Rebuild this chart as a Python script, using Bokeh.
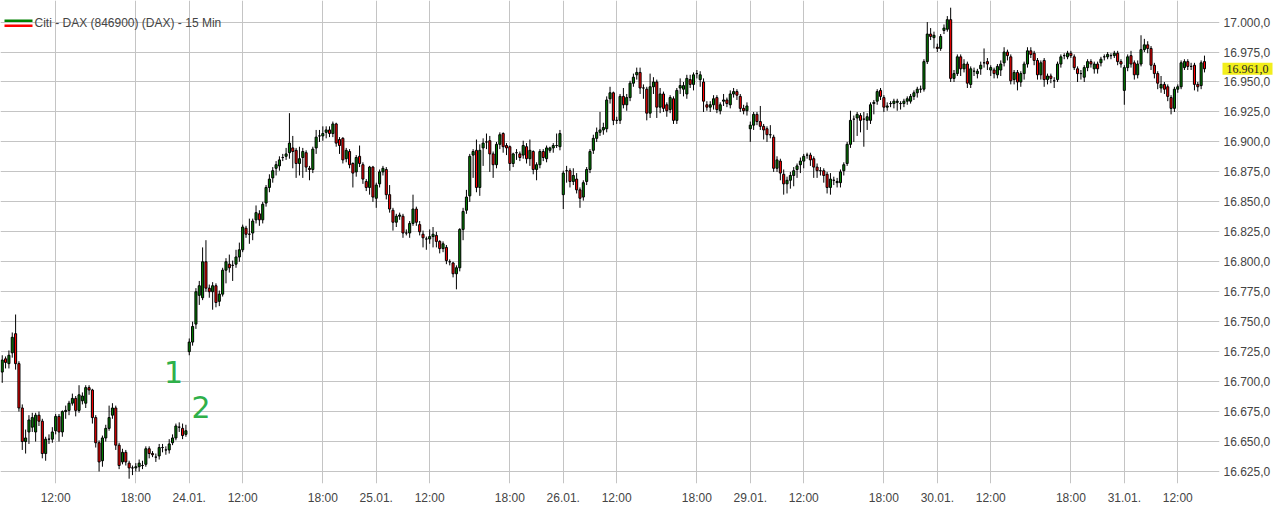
from bokeh.plotting import figure
from bokeh.models import FixedTicker, Label, BoxAnnotation, Range1d, ColumnDataSource
from bokeh.embed import file_html
from bokeh.resources import INLINE

# ---- 15-min OHLC, 23.01. 08:00 ... 31.01. 14:00 ----
opens = [
    # 23.01.
    16708,16719,16715,16724,16740,16715,16678,16650,16658,16662,
    16658,16672,16667,16640,16652,16652,16659,16671,16658,16675,
    16676,16682,16686,16676,16684,16682,16695,16693,16670,16649,
    16634,16653,16661,16672,16678,16647,16633,16641,16632,16628,
    16628,16629,16630,16631,16644,16640,16637,16638,16645,16643,
    16643,16649,16653,16662,16661,16656,
    # 24.01.
    16725,16733,16748,16772,16770,16800,16778,16775,16780,16767,
    16773,16793,16798,16797,16798,16804,16810,16828,16823,16824,
    16835,16840,16835,16849,16862,16870,16878,16880,16887,16888,
    16891,16895,16893,16882,16887,16891,16878,16877,16895,16905,
    16905,16908,16910,16907,16915,16902,16903,16886,16892,16882,
    16875,16888,16881,16867,16862,16879,
    # 25.01.
    16853,16865,16875,16877,16856,16843,16833,16838,16838,16824,
    16824,16832,16844,16831,16823,16819,16819,16821,16822,16817,
    16811,16812,16800,16799,16790,16795,16827,16843,16855,16889,
    16893,16862,16895,16900,16901,16890,16881,16898,16907,16897,
    16896,16882,16891,16890,16889,16896,16886,16892,16877,16881,
    16892,16886,16893,16895,16897,16896,
    # 26.01.
    16856,16876,16876,16867,16869,16860,16854,16867,16877,16893,
    16903,16908,16910,16911,16936,16941,16918,16918,16938,16931,
    16937,16949,16956,16958,16945,16944,16924,16946,16950,16929,
    16940,16931,16927,16936,16918,16945,16944,16940,16952,16948,
    16957,16952,16950,16931,16929,16931,16937,16926,16934,16935,
    16931,16940,16942,16938,16928,16926,
    # 29.01.
    16911,16914,16923,16917,16913,16911,16906,16904,16878,16884,
    16873,16865,16868,16872,16877,16881,16884,16889,16889,16886,
    16879,16876,16876,16873,16862,16868,16866,16866,16876,16882,
    16898,16919,16920,16922,16919,16918,16918,16932,16934,16943,
    16937,16929,16932,16932,16933,16932,16932,16934,16934,16938,
    16941,16944,16944,16967,16990,16987,
    # 30.01.
    16979,16978,16993,16994,17002,16953,16957,16971,16961,16965,
    16948,16959,16957,16961,16966,16967,16960,16960,16956,16960,
    16966,16975,16971,16952,16958,16950,16957,16965,16976,16974,
    16968,16956,16968,16952,16955,16951,16952,16965,16972,16971,
    16974,16971,16961,16957,16954,16962,16967,16961,16965,16966,
    16971,16971,16972,16972,16974,16967,
    # 31.01.
    16943,16962,16972,16966,16956,16965,16977,16981,16978,16964,
    16957,16945,16948,16946,16937,16928,16944,16946,16962,16967,
    16963,16964,16948,16947,16967,
]

closes = [
    16718,16716,16722,16737,16715,16678,16650,16653,16668,16670,
    16672,16667,16640,16652,16652,16658,16671,16658,16675,16676,
    16682,16686,16676,16689,16688,16695,16693,16670,16649,16633,
    16653,16661,16670,16678,16647,16630,16641,16633,16628,16628,
    16629,16632,16630,16644,16640,16639,16637,16645,16645,16643,
    16648,16653,16663,16662,16655,16659,
    16733,16746,16775,16780,16800,16778,16775,16780,16766,16773,
    16793,16800,16795,16797,16804,16810,16829,16823,16823,16834,
    16841,16835,16848,16862,16869,16876,16881,16885,16887,16890,
    16899,16892,16882,16886,16892,16879,16877,16894,16904,16905,
    16907,16910,16907,16915,16899,16897,16885,16893,16881,16874,
    16887,16882,16869,16862,16879,16854,
    16864,16875,16878,16856,16844,16833,16838,16839,16824,16824,
    16832,16844,16833,16825,16820,16819,16821,16823,16817,16811,
    16815,16801,16800,16790,16795,16827,16842,16854,16888,16892,
    16862,16893,16899,16900,16890,16881,16898,16906,16896,16895,
    16882,16890,16891,16887,16897,16886,16893,16877,16881,16892,
    16887,16895,16895,16897,16897,16907,
    16874,16876,16867,16872,16860,16853,16866,16877,16892,16903,
    16908,16910,16912,16935,16941,16918,16918,16938,16931,16937,
    16949,16954,16958,16945,16945,16924,16946,16950,16929,16940,
    16928,16926,16937,16918,16943,16947,16947,16953,16948,16956,
    16957,16956,16934,16929,16931,16936,16927,16931,16935,16932,
    16940,16942,16939,16928,16926,16930,
    16914,16923,16917,16913,16910,16906,16906,16878,16885,16874,
    16865,16868,16872,16876,16880,16884,16888,16889,16885,16879,
    16876,16876,16872,16862,16869,16868,16867,16875,16881,16898,
    16918,16919,16923,16918,16919,16921,16931,16933,16942,16938,
    16929,16930,16932,16934,16934,16932,16934,16936,16938,16941,
    16944,16944,16967,16990,16988,16989,
    16978,16988,16995,17002,16953,16957,16971,16961,16965,16949,
    16961,16959,16959,16964,16966,16965,16962,16957,16963,16965,
    16975,16972,16951,16958,16950,16957,16965,16976,16973,16968,
    16956,16966,16952,16955,16953,16951,16965,16971,16972,16974,
    16972,16962,16957,16957,16962,16967,16965,16965,16961,16969,
    16971,16973,16972,16974,16967,16965,
    16962,16971,16965,16956,16965,16977,16981,16978,16964,16957,
    16949,16948,16944,16938,16928,16944,16946,16966,16967,16963,
    16963,16948,16946,16966,16961,
]

highs = [
    16722,16721,16726,16741,16756,16717,16681,16660,16672,16674,
    16674,16675,16669,16654,16656,16662,16673,16673,16676,16680,
    16684,16690,16688,16697,16691,16697,16697,16694,16672,16651,
    16655,16664,16680,16682,16680,16649,16644,16643,16634,16630,
    16632,16635,16634,16646,16646,16642,16640,16648,16648,16646,
    16652,16656,16665,16666,16665,16664,
    16736,16750,16778,16784,16812,16818,16781,16783,16782,16776,
    16795,16803,16806,16801,16810,16816,16831,16830,16836,16836,
    16847,16843,16850,16864,16873,16879,16884,16888,16890,16895,
    16924,16905,16895,16896,16895,16893,16880,16896,16910,16910,
    16913,16913,16913,16917,16916,16904,16904,16895,16894,16883,
    16889,16897,16883,16869,16880,16880,
    16866,16877,16880,16879,16864,16845,16840,16841,16840,16827,
    16834,16856,16846,16834,16826,16821,16827,16829,16825,16818,
    16817,16814,16802,16800,16797,16828,16845,16860,16890,16894,
    16902,16898,16903,16907,16905,16892,16900,16908,16908,16899,
    16897,16891,16894,16892,16901,16899,16902,16893,16883,16894,
    16894,16897,16896,16899,16907,16910,
    16876,16880,16878,16878,16874,16862,16868,16879,16894,16906,
    16912,16925,16916,16938,16946,16942,16921,16940,16945,16940,
    16951,16957,16962,16962,16948,16946,16957,16954,16952,16945,
    16942,16933,16939,16938,16945,16953,16950,16956,16956,16958,
    16960,16959,16953,16934,16934,16939,16939,16933,16940,16937,
    16943,16945,16944,16940,16931,16933,
    16917,16925,16925,16930,16915,16913,16914,16906,16888,16886,
    16877,16871,16875,16879,16882,16887,16890,16891,16891,16888,
    16882,16879,16878,16875,16874,16871,16870,16877,16883,16900,
    16926,16922,16925,16924,16925,16924,16933,16935,16944,16945,
    16939,16933,16934,16936,16936,16934,16936,16938,16940,16943,
    16946,16947,16969,17000,16995,16992,
    16982,16990,16998,17005,17012,16960,16973,16973,16969,16967,
    16963,16962,16961,16967,16978,16970,16964,16962,16965,16968,
    16979,16977,16973,16960,16960,16959,16967,16979,16979,16976,
    16970,16968,16970,16957,16957,16954,16967,16973,16974,16976,
    16976,16973,16963,16960,16964,16969,16969,16967,16967,16971,
    16973,16975,16974,16976,16976,16969,
    16964,16973,16976,16968,16968,16989,16986,16984,16980,16966,
    16959,16955,16950,16948,16939,16946,16948,16968,16969,16969,
    16966,16966,16950,16968,16972,
]

lows = [
    16699,16711,16711,16720,16710,16675,16643,16640,16648,16658,
    16650,16663,16636,16634,16648,16649,16656,16650,16654,16669,
    16672,16680,16671,16674,16681,16678,16689,16665,16645,16625,
    16629,16650,16659,16669,16643,16627,16631,16630,16619,16622,
    16625,16625,16627,16629,16636,16637,16633,16635,16641,16639,
    16640,16647,16651,16658,16652,16654,
    16722,16730,16744,16764,16768,16775,16770,16760,16762,16763,
    16771,16782,16791,16784,16795,16800,16808,16820,16815,16818,
    16832,16830,16832,16846,16858,16866,16872,16876,16884,16885,
    16886,16878,16870,16872,16870,16875,16868,16874,16890,16900,
    16901,16903,16904,16904,16896,16890,16882,16883,16878,16862,
    16871,16879,16865,16859,16856,16850,
    16845,16862,16872,16852,16841,16826,16829,16835,16820,16822,
    16820,16830,16830,16822,16812,16810,16815,16812,16812,16807,
    16808,16798,16797,16787,16777,16792,16818,16840,16850,16870,
    16858,16855,16880,16894,16875,16870,16878,16894,16891,16889,
    16876,16879,16885,16884,16886,16882,16880,16873,16868,16878,
    16884,16883,16891,16891,16895,16893,
    16844,16866,16862,16864,16857,16845,16851,16864,16874,16890,
    16900,16905,16906,16908,16932,16914,16915,16915,16928,16926,
    16934,16946,16952,16940,16936,16918,16920,16940,16920,16924,
    16925,16921,16924,16915,16915,16940,16938,16936,16945,16943,
    16953,16946,16925,16926,16925,16927,16924,16923,16930,16929,
    16928,16937,16935,16925,16923,16922,
    16900,16910,16914,16910,16902,16900,16903,16875,16875,16868,
    16856,16857,16861,16863,16870,16874,16878,16886,16880,16870,
    16870,16872,16866,16857,16856,16864,16862,16862,16872,16880,
    16895,16900,16905,16908,16896,16910,16915,16923,16931,16935,
    16925,16926,16929,16928,16926,16927,16929,16931,16932,16935,
    16937,16941,16942,16965,16985,16978,
    16975,16976,16990,16992,16950,16950,16955,16955,16958,16945,
    16945,16955,16953,16956,16962,16960,16955,16953,16953,16955,
    16963,16968,16948,16948,16943,16946,16952,16962,16970,16964,
    16952,16952,16946,16948,16949,16945,16950,16962,16969,16969,
    16970,16960,16950,16952,16950,16959,16962,16957,16957,16963,
    16968,16969,16969,16970,16964,16962,
    16931,16959,16962,16952,16953,16963,16975,16974,16960,16953,
    16944,16941,16940,16934,16923,16925,16941,16944,16960,16960,
    16960,16943,16942,16944,16958,
]

x_tick_pos = [16, 40, 56, 72, 96, 112, 128, 152, 168, 184, 208, 224,
              240, 264, 280, 296, 320, 336, 352]
x_tick_labels = ["12:00", "18:00", "24.01.", "12:00", "18:00", "25.01.",
                 "12:00", "18:00", "26.01.", "12:00", "18:00", "29.01.",
                 "12:00", "18:00", "30.01.", "12:00", "18:00", "31.01.", "12:00"]
y_tick_pos = [16625, 16650, 16675, 16700, 16725, 16750, 16775, 16800,
              16825, 16850, 16875, 16900, 16925, 16950, 16975, 17000]
y_tick_labels = ["16.625,0", "16.650,0", "16.675,0", "16.700,0", "16.725,0",
                 "16.750,0", "16.775,0", "16.800,0", "16.825,0", "16.850,0",
                 "16.875,0", "16.900,0", "16.925,0", "16.950,0", "16.975,0",
                 "17.000,0"]
last_price_text = "16.961,0"
title_text = "Citi - DAX (846900) (DAX) - 15 Min"

UP = "#008000"
DOWN = "#ff0000"
FONT = "Liberation Sans"
FRAME_H = 483
X_END = 364.5

n = len(closes)
idx = list(range(n))
src = ColumnDataSource(dict(
    x=idx, h=highs, l=lows,
    top=[max(o, c) for o, c in zip(opens, closes)],
    bottom=[min(o, c) for o, c in zip(opens, closes)],
    color=[UP if c >= o else DOWN for o, c in zip(opens, closes)],
))

p = figure(width=1273, height=508,
           x_range=Range1d(-0.52, X_END), y_range=Range1d(16615, 17018),
           output_backend="svg", toolbar_location=None,
           y_axis_location="right",
           min_border_left=0, min_border_top=0,
           min_border_right=51, min_border_bottom=25)
p.outline_line_color = None
p.background_fill_color = "white"
p.border_fill_color = "white"

# axes
p.xaxis.ticker = FixedTicker(ticks=x_tick_pos)
p.xaxis.major_label_overrides = dict(zip(x_tick_pos, x_tick_labels))
p.yaxis.ticker = FixedTicker(ticks=y_tick_pos)
p.yaxis.major_label_overrides = dict(zip(y_tick_pos, y_tick_labels))
for ax in (p.xaxis, p.yaxis):
    ax.axis_line_color = None
    ax.major_tick_line_color = None
    ax.minor_tick_line_color = None
    ax.major_tick_out = 0
    ax.major_tick_in = 0
    ax.minor_tick_out = 0
    ax.minor_tick_in = 0
    ax.axis_label_standoff = 0
    ax.major_label_text_font = FONT
    ax.major_label_text_font_size = "12px"
    ax.major_label_text_color = "#444444"
p.xaxis.major_label_standoff = 7
p.yaxis.major_label_standoff = 4

p.xgrid.grid_line_color = "#c4c4c4"
p.ygrid.grid_line_color = "#c4c4c4"
p.xgrid.grid_line_width = 1
p.ygrid.grid_line_width = 1

# candles
p.segment(x0="x", y0="h", x1="x", y1="l", source=src,
          line_color="black", line_width=1)
p.vbar(x="x", width=0.62, top="top", bottom="bottom", source=src,
       fill_color="color", line_color="black", line_width=1)

# annotations "1" and "2"
p.add_layout(Label(x=51.3, y=16708, text="1", text_color="#2fb04a",
                   text_font="DejaVu Sans", text_font_size="30px",
                   text_align="center", text_baseline="middle"))
p.add_layout(Label(x=59.5, y=16679, text="2", text_color="#2fb04a",
                   text_font="DejaVu Sans", text_font_size="30px",
                   text_align="center", text_baseline="middle"))

# title / legend (top-left), screen units measured from frame bottom
p.add_layout(BoxAnnotation(left=4, right=32, top=FRAME_H - 19, bottom=FRAME_H - 21.5,
                           left_units="screen", right_units="screen",
                           top_units="screen", bottom_units="screen",
                           fill_color=UP, fill_alpha=1, line_color=None))
p.add_layout(BoxAnnotation(left=4, right=32, top=FRAME_H - 24, bottom=FRAME_H - 26.5,
                           left_units="screen", right_units="screen",
                           top_units="screen", bottom_units="screen",
                           fill_color=DOWN, fill_alpha=1, line_color=None))
p.add_layout(Label(x=34, y=FRAME_H - 22, x_units="screen", y_units="screen",
                   text=title_text, text_font=FONT,
                   text_font_size="12px", text_color="#444444",
                   text_baseline="middle", text_align="left"))

# last price marker on the axis (text glyph at overlay level, not clipped)
lp = ColumnDataSource(dict(x=[X_END], y=[closes[-1]], t=[last_price_text]))
p.text(x="x", y="y", text="t", source=lp, x_offset=3,
       text_font=FONT, text_font_size="12px", text_color="#222222",
       text_baseline="middle", text_align="left",
       background_fill_color="#f2ee1c", background_fill_alpha=1,
       padding=(4, 2), level="overlay")

open("out.html", "w").write(file_html(p, INLINE))
